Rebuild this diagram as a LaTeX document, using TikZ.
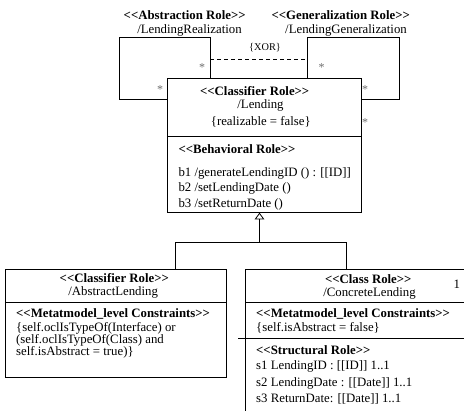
\documentclass[tikz,border=0pt]{standalone}
\usepackage{fontspec}
\setmainfont{Liberation Serif}[Ligatures=TeXOff]
\usetikzlibrary{arrows.meta}
\newcommand{\fs}{\fontsize{12.8}{15}\selectfont}
\tikzset{
  line/.style={draw=black, line width=0.8pt},
  box/.style={line, rectangle, inner sep=0pt},
  txt/.style={inner sep=0pt, anchor=base west, font=\fs},
  ctxt/.style={inner sep=0pt, anchor=base, font=\fs},
  hdr/.style={ctxt, font=\fs\bfseries},
  lhdr/.style={txt, font=\fs\bfseries},
  star/.style={text=gray!85!black, font=\fontsize{12}{12}\selectfont, inner sep=0pt},
}
\begin{document}
\begin{tikzpicture}[x=1pt, y=-1pt]
\useasboundingbox (0,0) rectangle (464,411);

% role names above the two association loops
\node[hdr]  (absrole) at (184.7,19.2) {<<Abstraction Role>>};
\node[ctxt] (absname) at (189.5,33.5) {/LendingRealization};
\node[hdr]  (genrole) at (340.7,19.2) {<<Generalization Role>>};
\node[ctxt] (genname) at (346,33.5) {/LendingGeneralization};

% central classifier box
\node[box, minimum width=194.4pt, minimum height=133.6pt] (main) at (264.5,145.5) {};
\draw[line] (main.west |- 0,136) -- (main.east |- 0,136);
\node[hdr]  (mainrole) at (254.7,95.2) {<<Classifier Role>>};
\node[ctxt] (mainname) at (260.5,108.5) {/Lending};
\node[ctxt] (mainreal) at (260.8,126) {\{realizable = false\}};
\node[lhdr] (behrole) at (178.3,153.8) {<<Behavioral Role>>};
\node[txt]  (b1) at (178.3,176.2) {b1 /generateLendingID () : [[ID]]};
\node[txt]  (b2) at (178.3,191.8) {b2 /setLendingDate ()};
\node[txt]  (b3) at (178.3,207.2) {b3 /setReturnDate ()};

% self-associations (realization and generalization loops)
\coordinate (rl) at (119,37.3);
\coordinate (rr) at (210,99);
\coordinate (gl) at (307.7,37.3);
\coordinate (gr) at (399.3,99);
\draw[line] (main.west |- rr) -| (rl) -| (rr |- main.north);
\draw[line] (gl |- main.north) |- (gr |- gl) |- (main.east |- gr);

% XOR constraint between the two loops
\coordinate (xor) at (258.8,59.7);
\draw[line, dash pattern=on 4pt off 3pt] (rr |- xor) -- (gl |- xor);
\node[inner sep=0pt, font=\fontsize{10.3}{12}\selectfont] (xorlbl) at (265,47.7) {\{XOR\}};

% multiplicities
\node[star] (m1) at (202,67.5) {*};
\node[star] (m2) at (160,90) {*};
\node[star] (m3) at (321.7,67.5) {*};
\node[star] (m4) at (365,90) {*};
\node[star] (m5) at (365,122.5) {*};

% abstract lending box
\node[box, minimum width=220.7pt, minimum height=108pt] (abs) at (115.65,323) {};
\draw[line] (abs.west |- 0,302.7) -- (abs.east |- 0,302.7);
\node[hdr]  (absclrole) at (114.3,282.8) {<<Classifier Role>>};
\node[ctxt] (absclname) at (113.2,295.8) {/AbstractLending};
\node[lhdr] (absmeta) at (16,317.8) {<<Metatmodel\_level Constraints>>};
\node[txt]  (absc1) at (16,331.2) {\{self.oclIsTypeOf(Interface) or};
\node[txt]  (absc2) at (16,343.8) {(self.oclIsTypeOf(Class) and};
\node[txt]  (absc3) at (16,355.5) {self.isAbstract = true)\}};

% concrete lending box (runs past the right and bottom edges)
\coordinate (con) at (245.5,269);
\coordinate (far) at (464,411);
\draw[line] (con -| far) -- (con) -- (con |- far);
\draw[line] (con |- 0,302.3) -- (far |- 0,302.3);
\draw[line] (238,338.5) -- (far |- 0,338.5);
\node[hdr]  (conrole) at (368.3,283.8) {<<Class Role>>};
\node[ctxt] (conname) at (369.5,296.2) {/ConcreteLending};
\node[ctxt] (conmult) at (456.7,288.5) {1};
\node[lhdr] (conmeta) at (256,317.8) {<<Metatmodel\_level Constraints>>};
\node[txt]  (conc1) at (256,331.2) {\{self.isAbstract = false\}};
\node[lhdr] (strrole) at (256,354.5) {<<Structural Role>>};
\node[txt]  (s1) at (256,369.5) {s1 LendingID : [[ID]] 1..1};
\node[txt]  (s2) at (256,386.2) {s2 LendingDate : [[Date]] 1..1};
\node[txt]  (s3) at (256,402.2) {s3 ReturnDate: [[Date]] 1..1};

% generalization tree
\coordinate (split) at (259.5,242.3);
\coordinate (lj) at (175.7,242.3);
\coordinate (rj) at (346,242.3);
\draw[line, -{Triangle[open, length=6.7pt, width=9.6pt]}] (split) -- (split |- main.south);
\draw[line] (abs.north -| lj) |- (rj) -- (rj |- con);
\end{tikzpicture}
\end{document}
